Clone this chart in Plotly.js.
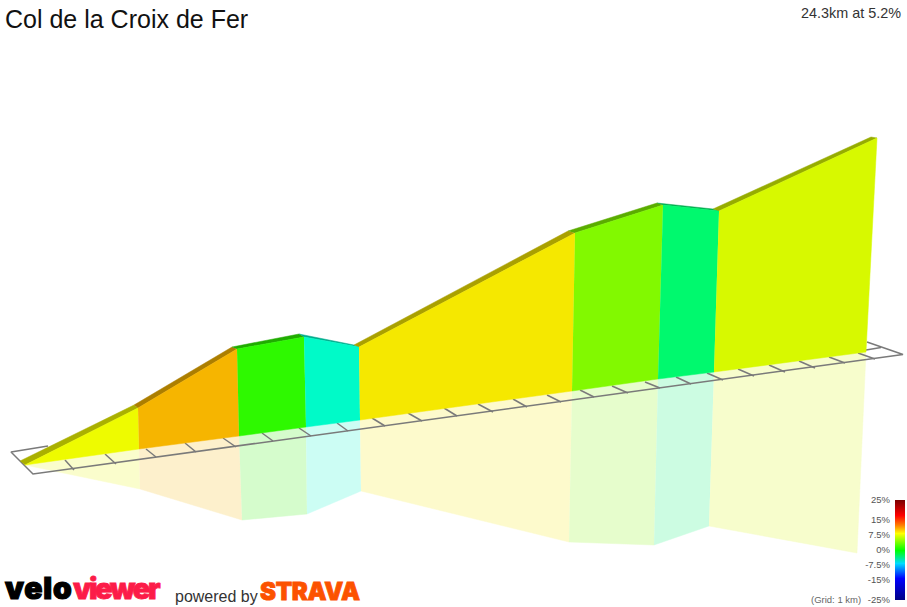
<!DOCTYPE html>
<html><head><meta charset="utf-8">
<script src="https://cdn.plot.ly/plotly-3.0.1.min.js"></script>
<style>html,body{margin:0;padding:0;background:#fff;overflow:hidden}
text[data-unformatted="velo"]{letter-spacing:.8px;stroke:#000;stroke-width:1.2px}
text[data-unformatted="viewer"]{letter-spacing:-2.4px;stroke:#fc1c48;stroke-width:.8px}
text[data-unformatted="STRAVA"]{letter-spacing:-.3px;stroke:#fc5200;stroke-width:.8px}
</style>
</head><body><div id="chart" style="width:907px;height:607px"></div>
<script>
// climb profile, one entry per gradient section
const sectionColors = ['rgb(238,251,0)','rgb(246,181,0)','rgb(46,249,0)','rgb(0,250,200)','rgb(245,232,0)','rgb(130,249,0)','rgb(0,249,110)','rgb(215,249,0)'];
const ridgeColors   = ['rgb(170,176,0)','rgb(172,126,0)','rgb(32,172,0)','rgb(0,172,140)','rgb(170,160,0)','rgb(90,172,0)','rgb(0,172,78)','rgb(150,172,0)'];
const shadowColors  = ['rgb(250,253,204)','rgb(253,240,204)','rgb(213,252,204)','rgb(204,253,244)','rgb(253,250,204)','rgb(230,253,204)','rgb(204,252,226)','rgb(247,253,204)'];

const topX   = [25,138,237,304,359,575,663,719,877];
const topY   = [465,408,349,337,347,233,205,211,138];
const ridgeX = [20,134,232,299,354,568,657,713,871];
const ridgeY = [461,405,347,334,345,231,203,209,137];
const baseX  = [25,139,239,306,360,572,658,714,866];
const baseY  = [465,449,436,427,420,391,379,372,352];
const mirrorX = [25,140,242,307,361,569,654,709,857];
const mirrorY = [465,489,520,514,491,542,545,526,553];

// ground grid
const tickBackX  = [65,105,146,185,223,262,299,337,372,408,444,478,513,547,580,612,645,676,707,738,769,799,829,858];
const tickBackY  = [460,454,449,443,438,433,428,423,418,413,408,404,399,395,390,386,382,377,373,369,365,361,357,353];
const tickFrontX = [74,116,156,196,236,273,311,348,385,422,457,493,527,561,594,628,660,691,723,754,785,815,845,875];
const tickFrontY = [470,464,457,452,447,441,436,431,426,421,416,412,407,402,397,393,388,384,380,376,372,368,363,359];
const outlineX = [48,11,33,903,867];
const outlineY = [446,452,474,354.5,342];
const backStubX = [866,881];
const backStubY = [350,347.5];

// gradient legend
const legendLevels = [-25,-15,-7.5,0,7.5,15,25];
const legendLabels = ['-25%','-15%','-7.5%','0%','7.5%','15%','25%'];

const traces = [];
function poly(x,y,color){
  traces.push({type:'scatter',mode:'lines',x:x,y:y,fill:'toself',fillcolor:color,
    line:{color:color,width:0.5},hoverinfo:'skip',showlegend:false});
}
function seg(x,y){
  traces.push({type:'scatter',mode:'lines',x:x,y:y,line:{color:'#7a7a7a',width:1.5},hoverinfo:'skip',showlegend:false});
}
// mirror image on the ground
for(let i=0;i<8;i++){
  poly([baseX[i],baseX[i+1],mirrorX[i+1],mirrorX[i]],[baseY[i],baseY[i+1],mirrorY[i+1],mirrorY[i]],shadowColors[i]);
}
// grid
seg(outlineX,outlineY);
seg(backStubX,backStubY);
for(let i=0;i<tickBackX.length;i++){ seg([tickBackX[i],tickFrontX[i]],[tickBackY[i],tickFrontY[i]]); }
// ridge strip and wall
for(let i=0;i<8;i++){
  poly([ridgeX[i],ridgeX[i+1],topX[i+1],topX[i]],[ridgeY[i],ridgeY[i+1],topY[i+1],topY[i]],ridgeColors[i]);
  poly([topX[i],topX[i+1],baseX[i+1],baseX[i]],[topY[i],topY[i+1],baseY[i+1],baseY[i]],sectionColors[i]);
}
// legend bar
traces.push({type:'heatmap',xaxis:'x2',yaxis:'y2',x:[0,1],y:legendLevels,
  z:legendLevels.map(v=>[v,v]),zmin:-25,zmax:25,zsmooth:'best',showscale:false,hoverinfo:'skip',
  colorscale:[[0,'rgb(0,0,130)'],[0.22,'rgb(0,0,255)'],[0.37,'rgb(0,220,255)'],[0.5,'rgb(0,255,0)'],[0.67,'rgb(255,255,0)'],[0.75,'rgb(255,130,0)'],[0.85,'rgb(255,0,0)'],[1,'rgb(125,0,0)']]});

const layout = {
  width:907,height:607,margin:{l:0,r:0,t:0,b:0},paper_bgcolor:'#fff',plot_bgcolor:'rgba(0,0,0,0)',showlegend:false,
  title:{text:'Col de la Croix de Fer',x:5/907,xanchor:'left',xref:'paper',y:1-28/607,yanchor:'bottom',yref:'container',
    font:{family:'Liberation Sans',size:25,color:'#111'},pad:{l:0,r:0,t:0,b:0}},
  xaxis:{range:[0,907],visible:false,fixedrange:true,domain:[0,1]},
  yaxis:{range:[607,0],visible:false,fixedrange:true,domain:[0,1]},
  xaxis2:{domain:[895/907,905/907],range:[0,1],visible:false,anchor:'y2'},
  yaxis2:{domain:[7/607,107/607],range:[-25,25],anchor:'x2',side:'left',showgrid:false,zeroline:false,showline:false,
    tickmode:'array',tickvals:legendLevels,ticktext:legendLabels,ticks:'',ticklabelstandoff:4,
    tickfont:{family:'Liberation Sans',size:9.5,color:'#555'}},
  annotations:[
    {text:'24.3km at 5.2%',xref:'paper',yref:'paper',x:903/907,y:1-13/607,xanchor:'right',yanchor:'middle',showarrow:false,font:{family:'Liberation Sans',size:14.4,color:'#333'}},
    {text:'(Grid: 1 km)',xref:'paper',yref:'paper',x:863/907,y:1-599.5/607,xanchor:'right',yanchor:'middle',showarrow:false,font:{family:'Liberation Sans',size:9.5,color:'#666'}},
    {text:'velo',xref:'paper',yref:'paper',x:4/907,y:0,xanchor:'left',yanchor:'bottom',borderpad:0,showarrow:false,font:{family:'Inter',size:30,weight:900,color:'#000'}},
    {text:'viewer',xref:'paper',yref:'paper',x:72/907,y:0,xanchor:'left',yanchor:'bottom',borderpad:0,showarrow:false,font:{family:'Inter',size:29,weight:900,color:'#fc1c48'}},
    {text:'powered by',xref:'paper',yref:'paper',x:173/907,y:1-596/607,xanchor:'left',yanchor:'middle',showarrow:false,font:{family:'Liberation Sans',size:16,color:'#333'}},
    {text:'STRAVA',xref:'paper',yref:'paper',x:259/907,y:0,xanchor:'left',yanchor:'bottom',borderpad:0,showarrow:false,font:{family:'Inter',size:24,weight:900,color:'#fc5200'}}
  ]
};
Plotly.newPlot('chart',traces,layout,{displayModeBar:false,staticPlot:true});
</script></body></html>
